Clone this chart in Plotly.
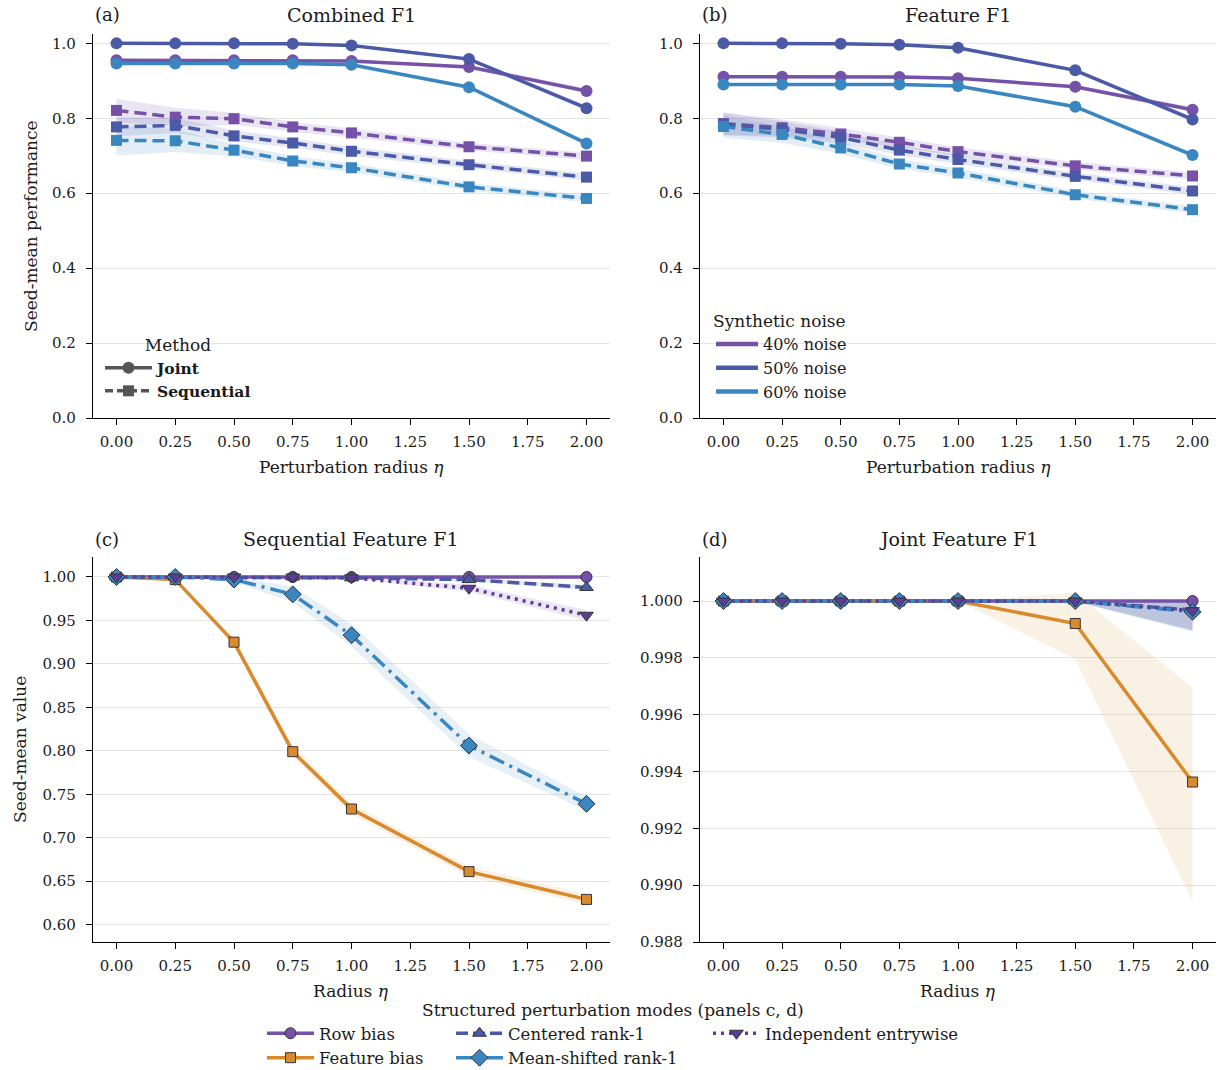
import plotly.graph_objects as go

# ---------------- data ----------------
radius = [0.0, 0.25, 0.5, 0.75, 1.0, 1.5, 2.0]
x_ticks = [0.0, 0.25, 0.5, 0.75, 1.0, 1.25, 1.5, 1.75, 2.0]
noise_labels = ["40% noise", "50% noise", "60% noise"]

# (a) Combined F1
comb_joint_40 = [0.955, 0.955, 0.955, 0.955, 0.953, 0.937, 0.873]
comb_joint_50 = [1.000, 1.000, 1.000, 0.999, 0.994, 0.958, 0.827]
comb_joint_60 = [0.946, 0.946, 0.946, 0.946, 0.943, 0.883, 0.733]
comb_seq_40 = [0.821, 0.803, 0.799, 0.777, 0.761, 0.724, 0.699]
comb_seq_50 = [0.777, 0.781, 0.753, 0.734, 0.712, 0.676, 0.643]
comb_seq_60 = [0.741, 0.740, 0.715, 0.686, 0.668, 0.617, 0.586]
comb_joint_sd = [0.002, 0.002, 0.002, 0.002, 0.003, 0.005, 0.007]
comb_seq_sd_40 = [0.031, 0.025, 0.016, 0.013, 0.012, 0.010, 0.010]
comb_seq_sd_50 = [0.025, 0.020, 0.015, 0.012, 0.012, 0.010, 0.010]
comb_seq_sd_60 = [0.040, 0.030, 0.016, 0.013, 0.012, 0.010, 0.010]

# (b) Feature F1
feat_joint_40 = [0.911, 0.911, 0.911, 0.910, 0.907, 0.884, 0.823]
feat_joint_50 = [1.000, 1.000, 0.999, 0.996, 0.988, 0.928, 0.797]
feat_joint_60 = [0.890, 0.890, 0.890, 0.890, 0.886, 0.831, 0.702]
feat_seq_40 = [0.786, 0.775, 0.758, 0.736, 0.711, 0.673, 0.646]
feat_seq_50 = [0.784, 0.770, 0.749, 0.715, 0.690, 0.645, 0.606]
feat_seq_60 = [0.778, 0.757, 0.721, 0.678, 0.654, 0.596, 0.556]
feat_joint_sd = [0.002, 0.002, 0.002, 0.002, 0.003, 0.005, 0.007]
feat_seq_sd = [0.030, 0.022, 0.016, 0.013, 0.012, 0.010, 0.010]

# (c) Sequential Feature F1 by perturbation mode
mode_labels = ["Row bias", "Feature bias", "Centered rank-1", "Mean-shifted rank-1", "Independent entrywise"]
seq_row = [1.000, 1.000, 1.000, 1.000, 1.000, 1.000, 1.000]
seq_feat = [1.000, 0.997, 0.925, 0.799, 0.733, 0.661, 0.629]
seq_cent = [1.000, 1.000, 1.000, 1.000, 0.999, 0.997, 0.988]
seq_mean = [1.000, 1.000, 0.997, 0.980, 0.933, 0.806, 0.739]
seq_indep = [1.000, 1.000, 1.000, 1.000, 0.999, 0.987, 0.956]
seq_row_sd = [0, 0, 0, 0, 0, 0, 0]
seq_feat_sd = [0.000, 0.002, 0.004, 0.006, 0.006, 0.006, 0.006]
seq_cent_sd = [0.000, 0.000, 0.000, 0.000, 0.001, 0.002, 0.003]
seq_mean_sd = [0.000, 0.000, 0.003, 0.009, 0.013, 0.013, 0.008]
seq_indep_sd = [0.000, 0.000, 0.000, 0.000, 0.001, 0.004, 0.006]

# (d) Joint Feature F1 by perturbation mode
joint_row = [1.0, 1.0, 1.0, 1.0, 1.0, 1.0, 1.0]
joint_feat = [1.0, 1.0, 1.0, 1.0, 1.0, 0.99921, 0.99363]
joint_cent = [1.0, 1.0, 1.0, 1.0, 1.0, 1.0, 0.99968]
joint_mean = [1.0, 1.0, 1.0, 1.0, 1.0, 1.0, 0.99962]
joint_indep = [1.0, 1.0, 1.0, 1.0, 1.0, 1.0, 0.99966]
joint_feat_lo = [1.0, 1.0, 1.0, 1.0, 1.0, 0.99795, 0.98942]
joint_feat_hi = [1.0, 1.0, 1.0, 1.0, 1.0, 1.0003, 0.99695]
joint_other_sd = [0.0, 0.0, 0.0, 0.0, 0.0, 0.00002, 0.00070]

# ---------------- style ----------------
C40 = "#7552A8"
C50 = "#4A5AA7"
C60 = "#3A86C0"
CORANGE = "#D98A2D"
CINDEP = "#5C3D96"
GRAY = "#555555"
FONT = "DejaVu Serif"
TXT = "#1a1a1a"
W, H = 1222, 1070


def rgba(hexc, a):
    h = hexc.lstrip("#")
    return f"rgba({int(h[0:2],16)},{int(h[2:4],16)},{int(h[4:6],16)},{a})"


fig = go.Figure()


def band(xa, ya, lo, hi, color, alpha=0.15):
    fig.add_trace(go.Scatter(
        x=list(radius) + list(radius)[::-1], y=list(hi) + list(lo)[::-1],
        xaxis=xa, yaxis=ya, fill="toself", fillcolor=rgba(color, alpha),
        line=dict(width=0), mode="lines", hoverinfo="skip", showlegend=False))


def series(xa, ya, y, color, dash, symbol, size, edge=None, name=None, legend=None, lw=3.5):
    fig.add_trace(go.Scatter(
        x=radius, y=y, xaxis=xa, yaxis=ya, mode="lines+markers",
        line=dict(color=color, width=lw, dash=dash),
        marker=dict(symbol=symbol, size=size, color=color,
                    line=dict(color=edge if edge else color, width=1 if edge else 0)),
        name=name, showlegend=legend is not None, legend=legend if legend else "legend"))


def pm(m, s, sign, cap=None):
    out = [a + sign * b for a, b in zip(m, s)]
    if cap is not None:
        out = [min(v, cap) for v in out]
    return out


# panel (a)
for m, s, c in [(comb_seq_40, comb_seq_sd_40, C40), (comb_seq_50, comb_seq_sd_50, C50), (comb_seq_60, comb_seq_sd_60, C60)]:
    band("x", "y", pm(m, s, -1), pm(m, s, 1), c)
for m, c in [(comb_joint_40, C40), (comb_joint_50, C50), (comb_joint_60, C60)]:
    band("x", "y", pm(m, comb_joint_sd, -1), pm(m, comb_joint_sd, 1), c)
for m, c in [(comb_seq_40, C40), (comb_seq_50, C50), (comb_seq_60, C60)]:
    series("x", "y", m, c, "12px,6px", "square", 11)
for m, c in [(comb_joint_40, C40), (comb_joint_50, C50), (comb_joint_60, C60)]:
    series("x", "y", m, c, "solid", "circle", 12)

# panel (b)
for m, c in [(feat_seq_40, C40), (feat_seq_50, C50), (feat_seq_60, C60)]:
    band("x2", "y2", pm(m, feat_seq_sd, -1), pm(m, feat_seq_sd, 1), c)
for m, c in [(feat_joint_40, C40), (feat_joint_50, C50), (feat_joint_60, C60)]:
    band("x2", "y2", pm(m, feat_joint_sd, -1), pm(m, feat_joint_sd, 1), c)
for m, c in [(feat_seq_40, C40), (feat_seq_50, C50), (feat_seq_60, C60)]:
    series("x2", "y2", m, c, "12px,6px", "square", 11)
for m, c in [(feat_joint_40, C40), (feat_joint_50, C50), (feat_joint_60, C60)]:
    series("x2", "y2", m, c, "solid", "circle", 12)

# mode styles
modes = [
    ("Row bias", seq_row, seq_row_sd, joint_row, C40, "solid", "circle", 11, "legend3"),
    ("Feature bias", seq_feat, seq_feat_sd, joint_feat, CORANGE, "solid", "square", 10, "legend3"),
    ("Centered rank-1", seq_cent, seq_cent_sd, joint_cent, C50, "12px,5px", "triangle-up", 12, "legend4"),
    ("Mean-shifted rank-1", seq_mean, seq_mean_sd, joint_mean, C60, "16px,6px,3px,6px", "diamond", 13, "legend4"),
    ("Independent entrywise", seq_indep, seq_indep_sd, joint_indep, CINDEP, "3px,5px", "triangle-down", 12, "legend5"),
]

# panel (c)
for lab, m, s, _, c, d, sym, sz, lg in modes:
    band("x3", "y3", pm(m, s, -1), pm(m, s, 1), c, 0.12)
for lab, m, s, _, c, d, sym, sz, lg in modes:
    series("x3", "y3", m, c, d, sym, sz, edge="#333333", name=lab, legend=lg)

# panel (d)
band("x4", "y4", joint_feat_lo, joint_feat_hi, CORANGE, 0.12)
for m, c in [(joint_cent, C50), (joint_mean, C60), (joint_indep, CINDEP)]:
    band("x4", "y4", pm(m, joint_other_sd, -1), pm(m, joint_other_sd, 1, cap=1.0), c, 0.14)
for lab, _, _, m, c, d, sym, sz, lg in modes:
    series("x4", "y4", m, c, d, sym, sz, edge="#333333")

# legend-only entries for method / noise legends
fig.add_trace(go.Scatter(x=[None], y=[None], mode="lines+markers", name="<b>Joint</b>",
                         line=dict(color=GRAY, width=3.5), marker=dict(symbol="circle", size=12, color=GRAY),
                         legend="legend", showlegend=True))
fig.add_trace(go.Scatter(x=[None], y=[None], mode="lines+markers", name="<b>Sequential</b>",
                         line=dict(color=GRAY, width=3.5, dash="8px,4px"), marker=dict(symbol="square", size=11, color=GRAY),
                         legend="legend", showlegend=True))
for lab, c in zip(noise_labels, [C40, C50, C60]):
    fig.add_trace(go.Scatter(x=[None], y=[None], mode="lines", name=lab,
                             line=dict(color=c, width=4.5), legend="legend2", showlegend=True))

# ---------------- layout ----------------
def px_x(p):
    return p / W


def px_y(p):
    return 1 - p / H


dom_x1 = [px_x(93), px_x(610)]
dom_x2 = [px_x(700), px_x(1216)]
dom_y1 = [px_y(418), px_y(34)]
dom_y2 = [px_y(942), px_y(557)]

axis_common = dict(showline=True, linecolor="black", linewidth=1.3, ticks="outside",
                   ticklen=6, tickwidth=1.2, tickcolor="black", zeroline=False,
                   tickfont=dict(family=FONT, size=15, color=TXT))
xcommon = dict(axis_common, range=[-0.1, 2.1], tickvals=x_ticks, ticklabelstandoff=4,
               ticktext=[f"{v:.2f}" for v in x_ticks], showgrid=False)
ycommon = dict(axis_common, showgrid=True, gridcolor="#e5e5e5", gridwidth=1, ticklabelstandoff=7)

leg_base = dict(xanchor="left", yanchor="top", bgcolor="rgba(0,0,0,0)", borderwidth=0)

fig.update_layout(
    width=W, height=H, margin=dict(l=0, r=0, t=0, b=0, autoexpand=False),
    paper_bgcolor="white", plot_bgcolor="white",
    font=dict(family=FONT, size=15, color=TXT),
    xaxis=dict(xcommon, domain=dom_x1, anchor="y"),
    yaxis=dict(ycommon, domain=dom_y1, anchor="x", range=[0, 1.025],
               tickvals=[0, 0.2, 0.4, 0.6, 0.8, 1.0], ticktext=["0.0", "0.2", "0.4", "0.6", "0.8", "1.0"]),
    xaxis2=dict(xcommon, domain=dom_x2, anchor="y2"),
    yaxis2=dict(ycommon, domain=dom_y1, anchor="x2", range=[0, 1.025],
                tickvals=[0, 0.2, 0.4, 0.6, 0.8, 1.0], ticktext=["0.0", "0.2", "0.4", "0.6", "0.8", "1.0"]),
    xaxis3=dict(xcommon, domain=dom_x1, anchor="y3"),
    yaxis3=dict(ycommon, domain=dom_y2, anchor="x3", range=[0.58, 1.023],
                tickvals=[0.60, 0.65, 0.70, 0.75, 0.80, 0.85, 0.90, 0.95, 1.00],
                ticktext=[f"{v:.2f}" for v in [0.60, 0.65, 0.70, 0.75, 0.80, 0.85, 0.90, 0.95, 1.00]]),
    xaxis4=dict(xcommon, domain=dom_x2, anchor="y4"),
    yaxis4=dict(ycommon, domain=dom_y2, anchor="x4", range=[0.988, 1.00155],
                tickvals=[0.988, 0.990, 0.992, 0.994, 0.996, 0.998, 1.000],
                ticktext=[f"{v:.3f}" for v in [0.988, 0.990, 0.992, 0.994, 0.996, 0.998, 1.000]]),
    legend=dict(leg_base, x=px_x(100), y=px_y(329), font=dict(family=FONT, size=15.5),
                title=dict(text="Method", side="top center", font=dict(family=FONT, size=17)),
                itemwidth=47),
    legend2=dict(leg_base, x=px_x(711), y=px_y(305), font=dict(family=FONT, size=16),
                 title=dict(text="Synthetic noise", side="top", font=dict(family=FONT, size=17)),
                 itemwidth=42),
    legend3=dict(leg_base, x=px_x(262), y=px_y(1016), font=dict(family=FONT, size=16.5), itemwidth=47),
    legend4=dict(leg_base, x=px_x(451), y=px_y(1016), font=dict(family=FONT, size=16.5), itemwidth=47),
    legend5=dict(leg_base, x=px_x(708), y=px_y(1016), font=dict(family=FONT, size=16.5), itemwidth=47),
)

ann = []


def text(x, y, s, size, xanchor="center", angle=0):
    ann.append(dict(x=px_x(x), y=px_y(y), xref="paper", yref="paper", text=s, showarrow=False,
                    xanchor=xanchor, yanchor="middle", textangle=angle,
                    font=dict(family=FONT, size=size, color=TXT)))


text(93, 15, "(a)", 18, "left")
text(351, 15, "Combined F1", 19)
text(700, 15, "(b)", 18, "left")
text(958, 15, "Feature F1", 19)
text(93, 539, "(c)", 18, "left")
text(351, 539, "Sequential Feature F1", 19)
text(700, 539, "(d)", 18, "left")
text(958, 539, "Joint Feature F1", 19)
text(351, 467, "Perturbation radius <i>η</i>", 17)
text(958, 467, "Perturbation radius <i>η</i>", 17)
text(351, 991, "Radius <i>η</i>", 17)
text(958, 991, "Radius <i>η</i>", 17)
text(31, 226, "Seed-mean performance", 17, angle=-90)
text(20, 750, "Seed-mean value", 17, angle=-90)
text(613, 1010, "Structured perturbation modes (panels c, d)", 17)
fig.update_layout(annotations=ann)

fig.write_html("out.html")
